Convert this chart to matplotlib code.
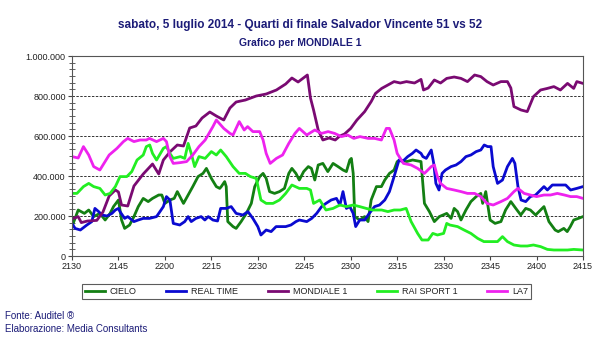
import numpy as np
import matplotlib
matplotlib.use("Agg")
import matplotlib.pyplot as plt
from matplotlib.ticker import MultipleLocator, FuncFormatter

plt.rcParams['font.family'] = ['Liberation Sans', 'DejaVu Sans']

# minutes after 21:30, values in thousands
mondiale_x = [0, 2, 3, 5, 8, 10, 12, 14, 15, 16, 18, 20, 23, 26, 28, 29.5, 31.6, 34, 36, 38, 40, 42, 44.5, 46.6, 49, 51, 53, 56, 59.5, 62.7, 66, 69, 71, 73, 76, 77, 78, 79.5, 81, 83, 85, 86.5, 88, 90, 92, 94.5, 96.6, 98, 100, 102, 104, 106, 108, 110.6, 112.7, 113.5, 115, 117, 119, 121, 123.4, 125.6, 127.7, 130, 132, 134, 136, 138.5, 140.6, 141.7, 142.7, 145, 147, 149, 151.3, 153.5, 155.6, 157.7, 160, 162, 163, 165]
mondiale_y = [185, 197, 167, 175, 178, 220, 300, 330, 320, 255, 250, 350, 410, 460, 410, 480, 520, 555, 550, 640, 650, 690, 720, 700, 680, 740, 770, 780, 800, 810, 830, 860, 890, 870, 905, 790, 730, 630, 580, 590, 580, 600, 610, 638, 680, 722, 772, 813, 838, 855, 872, 865, 872, 865, 883, 830, 840, 880, 865, 888, 895, 888, 872, 905, 897, 872, 855, 872, 872, 840, 747, 730, 722, 797, 830, 838, 847, 830, 863, 838, 872, 863]

la7_x = [0, 2, 3.7, 5.4, 7, 9, 10, 12, 14.5, 16.6, 18, 20, 22, 24, 25, 27.3, 29.5, 30.5, 31.6, 32.7, 35, 37, 39, 41, 43, 45.5, 46.6, 49, 51, 52, 54, 55.6, 56.7, 58.4, 60.6, 61.7, 62.7, 64, 66, 68, 70, 72, 73.4, 75.8, 78.4, 80.6, 82.7, 84.8, 87, 89, 91, 93, 95.6, 97.7, 99.9, 101.5, 102.5, 104, 105, 107, 109.5, 111.6, 113.8, 116, 117, 118, 119, 121, 123.4, 125.6, 127.7, 130, 132, 134, 136, 138.5, 140.6, 142.7, 144, 146, 148, 150, 152.4, 154.5, 156.7, 159, 161, 163, 165]
la7_y = [497, 490, 547, 505, 447, 430, 455, 505, 538, 572, 588, 572, 580, 580, 588, 572, 588, 572, 497, 463, 467, 472, 505, 547, 580, 647, 680, 638, 613, 605, 672, 630, 647, 622, 622, 580, 513, 463, 488, 505, 563, 613, 638, 605, 630, 613, 622, 613, 597, 605, 588, 597, 588, 588, 580, 638, 638, 580, 513, 463, 455, 438, 413, 447, 455, 397, 363, 338, 330, 322, 313, 313, 297, 263, 255, 272, 288, 322, 338, 313, 305, 297, 305, 305, 313, 305, 297, 297, 288]

rai_x = [0, 1.6, 3.7, 5.4, 7, 9, 10.7, 12.3, 14, 15.5, 17.7, 19.3, 21, 23, 24, 25.1, 26, 27.3, 29.5, 30.5, 31.6, 32.7, 35, 36.4, 37.5, 38.5, 39.6, 41, 43, 45, 46.6, 48, 49.8, 52, 54, 56, 57.6, 59.5, 61, 62.7, 64.9, 67, 69, 71, 73.4, 75.8, 77, 78, 80, 82, 84.3, 86.5, 88.6, 90.8, 92.9, 95, 97, 100, 102, 104, 106, 107.9, 109.5, 111.6, 113, 115, 116.5, 118, 120, 121, 122, 124.5, 126.6, 128.8, 131, 133, 135, 137.4, 139, 140.6, 142.7, 144.9, 147, 149, 151.3, 153.5, 155.6, 157.7, 160, 162, 165]
rai_y = [313, 313, 347, 363, 347, 338, 305, 313, 347, 397, 397, 422, 480, 505, 547, 555, 513, 480, 538, 547, 513, 488, 497, 488, 563, 513, 447, 497, 488, 522, 505, 530, 497, 447, 413, 413, 397, 388, 280, 263, 263, 280, 313, 355, 338, 338, 330, 263, 280, 230, 238, 255, 247, 255, 247, 238, 230, 230, 222, 230, 230, 238, 172, 113, 80, 80, 113, 105, 113, 163, 155, 147, 130, 113, 88, 72, 72, 72, 97, 72, 55, 50, 50, 55, 47, 33, 30, 30, 30, 33, 30]

cielo_x = [0, 2, 4, 5.4, 7, 9, 10.7, 12.3, 13.4, 15, 16, 17, 18.6, 20, 21.4, 23, 24.6, 26, 28, 29, 30, 31.6, 33, 34, 36, 37.5, 39, 40.7, 42.3, 43.4, 45, 46.6, 47.7, 48.2, 49.3, 49.8, 50.3, 52, 53, 54.6, 56.3, 57.9, 59, 60.6, 61.7, 62.7, 63.8, 65.4, 67, 68.6, 70, 71, 72.3, 73.4, 74.8, 76.3, 77.3, 78.4, 79.5, 81, 82.6, 84.3, 85.9, 87.5, 88.6, 89.7, 90.2, 90.8, 91.3, 92.9, 94.5, 95.6, 96.6, 98.3, 99.9, 101, 102.5, 104, 105, 106, 108, 110, 112.7, 113.8, 115.4, 117, 118.6, 121, 122.4, 123.4, 124.5, 125.6, 127.2, 128.8, 130.5, 132, 132.6, 133.6, 135, 136.6, 138.5, 140, 141.7, 143.3, 144.9, 146.5, 148, 149.7, 151.3, 152.4, 154, 156, 157, 158.8, 159.9, 160.9, 162, 163.5, 165]
cielo_y = [147, 230, 213, 230, 197, 213, 180, 213, 247, 280, 180, 138, 155, 197, 247, 288, 272, 288, 305, 305, 263, 280, 288, 322, 263, 305, 347, 397, 413, 438, 388, 347, 338, 347, 372, 347, 172, 147, 138, 172, 213, 263, 347, 397, 413, 388, 322, 313, 322, 338, 413, 438, 413, 380, 422, 447, 438, 380, 455, 463, 422, 463, 447, 430, 422, 480, 488, 413, 197, 180, 197, 172, 280, 347, 347, 380, 413, 430, 472, 480, 472, 480, 472, 263, 222, 172, 197, 213, 188, 238, 222, 180, 230, 272, 297, 313, 263, 322, 180, 163, 172, 230, 272, 238, 205, 238, 230, 205, 230, 247, 172, 130, 122, 138, 122, 147, 180, 188, 197]

real_x = [0, 1, 2.7, 4.8, 6.4, 7.4, 8.6, 9.7, 11.3, 12.9, 14, 15, 15.5, 17, 18, 20, 21.4, 23, 25, 27.3, 28.4, 29.5, 30.5, 31.6, 32.7, 34.8, 36.4, 37.5, 38.5, 40, 41.7, 42.9, 44, 45.5, 47, 48, 49.8, 51.4, 53, 55.2, 56.8, 58.4, 60, 61, 62.7, 64.3, 65.9, 67.5, 69, 70.7, 72.3, 73.4, 75.8, 77.4, 79, 80.6, 82, 83.7, 85.4, 86.5, 87.5, 88.6, 89.7, 90.8, 91.6, 92.9, 94.5, 96, 97.7, 99.3, 101, 102.5, 104, 105.6, 106.7, 108.4, 109.9, 111.1, 112.7, 113.3, 114.4, 116, 116.8, 117.5, 118.5, 119.5, 120.6, 122.4, 124, 125.6, 127.2, 128.8, 130.5, 132, 133.1, 134.2, 135.3, 136, 137.4, 139, 140.6, 142.2, 143, 144, 145, 146.5, 148, 149.7, 151.3, 152.4, 153.5, 155.1, 157.2, 159.4, 161, 163, 165]
real_y = [163, 138, 130, 155, 172, 238, 222, 205, 200, 213, 230, 238, 222, 188, 197, 172, 180, 188, 188, 197, 222, 247, 297, 280, 163, 155, 172, 197, 172, 188, 197, 180, 197, 180, 175, 238, 238, 247, 213, 205, 222, 188, 147, 105, 130, 122, 147, 147, 147, 155, 172, 180, 172, 188, 213, 247, 263, 280, 288, 255, 322, 238, 247, 213, 147, 180, 180, 213, 247, 255, 280, 322, 397, 480, 472, 497, 513, 530, 513, 497, 488, 530, 463, 363, 330, 413, 430, 447, 455, 472, 497, 505, 522, 530, 555, 547, 547, 447, 363, 380, 447, 488, 463, 347, 280, 272, 297, 305, 330, 347, 330, 355, 355, 355, 330, 338, 347]

names = ['CIELO', 'REAL TIME', 'MONDIALE 1', 'RAI SPORT 1', 'LA7']
colors = ['#137f13', '#0a0ad0', '#7a0a72', '#22ee22', '#ee22ee']
xs = [cielo_x, real_x, mondiale_x, rai_x, la7_x]
ys = [cielo_y, real_y, mondiale_y, rai_y, la7_y]

tick_min = list(range(0, 166, 15))
tick_lab = ['2130', '2145', '2200', '2215', '2230', '2245', '2300', '2315', '2330', '2345', '2400', '2415']

navy = '#1c1c78'

fig = plt.figure(figsize=(6, 3.53), dpi=100)
ax = fig.add_axes([72/600, 1-256/353, 511/600, 200/353])

for x, y, c, n in zip(xs, ys, colors, names):
    ax.plot(x, np.array(y)*1000, color=c, lw=2.0, label=n, solid_joinstyle='round')

ax.set_xlim(0, 165)
ax.set_ylim(0, 1000000)
ax.set_xticks(tick_min)
ax.set_xticklabels(tick_lab)
ax.yaxis.set_major_locator(MultipleLocator(200000))
ax.yaxis.set_minor_locator(MultipleLocator(200000/6))
ax.yaxis.set_major_formatter(FuncFormatter(lambda v, p: f'{int(v):,}'.replace(',', '.')))
for yy in [200000, 400000, 600000, 800000]:
    ax.axhline(yy, color='#333333', lw=0.7, ls=(0, (2.5, 1.5)), zorder=0)
ax.tick_params(axis='both', which='major', labelsize=6.5, colors='#444444', length=3,
               labelcolor='#222222', pad=1.5)
ax.tick_params(axis='y', which='minor', direction='inout', length=5, colors='#444444')
for s in ax.spines.values():
    s.set_color('#555555')
    s.set_linewidth(0.8)

fig.text(0.5, 1-25/353, 'sabato, 5 luglio 2014 - Quarti di finale Salvador Vincente 51 vs 52',
         ha='center', va='center', fontsize=8.5, fontweight='bold', color=navy)
fig.text(0.5, 1-43/353, 'Grafico per MONDIALE 1', ha='center', va='center',
         fontsize=7.5, fontweight='bold', color=navy)

leg = fig.legend(loc='center', bbox_to_anchor=(82/600, 1-300/353, 449/600, 17/353),
                 mode='expand', ncol=5, fontsize=6.5, frameon=True, fancybox=False,
                 handlelength=2.2, handletextpad=0.6, borderpad=0.3, borderaxespad=0)
leg.get_frame().set_edgecolor('#333333')
leg.get_frame().set_linewidth(0.8)
for t in leg.get_texts():
    t.set_color('#222222')

fig.text(5/600, 1-316/353, 'Fonte: Auditel ®', ha='left', va='center', fontsize=7, color=navy)
fig.text(5/600, 1-329/353, 'Elaborazione: Media Consultants', ha='left', va='center',
         fontsize=7, color=navy)

fig.savefig('out.png', dpi=100)
